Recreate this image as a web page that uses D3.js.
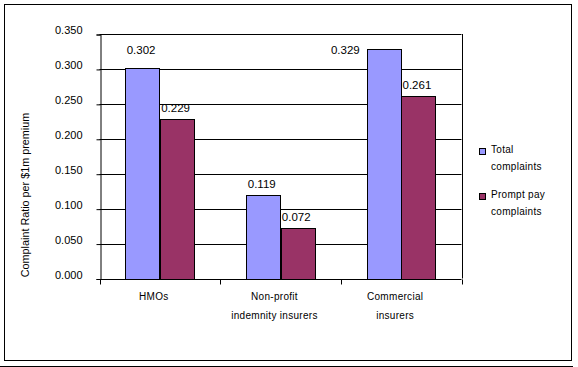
<!DOCTYPE html>
<html><head><meta charset="utf-8">
<script src="https://cdn.jsdelivr.net/npm/d3@7"></script>
<style>
html,body{margin:0;padding:0;background:#fff;}
svg{display:block;font-family:"Liberation Sans",Arial,sans-serif;}
</style></head>
<body><svg id="chart" width="578" height="367"></svg>
<script>
const categories = [["HMOs"], ["Non-profit", "indemnity insurers"], ["Commercial", "insurers"]];
const seriesNames = [["Total", "complaints"], ["Prompt pay", "complaints"]];
const totalComplaints = [0.302, 0.119, 0.329];
const promptPayComplaints = [0.229, 0.072, 0.261];
const yTicks = [0, 0.05, 0.10, 0.15, 0.20, 0.25, 0.30, 0.35];
const colors = ["#9999FF", "#993366"];
const yTitle = "Complaint Ratio per $1m premium";

const svg = d3.select("#chart");
const plot = {left: 99.5, right: 461.5, top: 34, bottom: 278.5};
const series = [totalComplaints, promptPayComplaints];

// outer frame + shadow line
svg.append("rect").attr("x", 4.5).attr("y", 4.5).attr("width", 567).attr("height", 356)
  .attr("fill", "#fff").attr("stroke", "#000").attr("stroke-width", 1);
svg.append("line").attr("x1", 0).attr("x2", 573).attr("y1", 366.5).attr("y2", 366.5)
  .attr("stroke", "#000");

const y = d3.scaleLinear().domain([0, 0.35]).range([plot.bottom, plot.top]);
const x0 = d3.scaleBand().domain(d3.range(categories.length)).range([plot.left, plot.right]).padding(0);
const x1 = d3.scaleBand().domain(d3.range(series.length)).range([0, x0.bandwidth()])
  .paddingInner(0).paddingOuter(0.75);

// gridlines
svg.append("g").selectAll("line").data(yTicks.slice(1)).join("line")
  .attr("x1", plot.left).attr("x2", plot.right)
  .attr("y1", d => Math.round(y(d)) + 0.5).attr("y2", d => Math.round(y(d)) + 0.5)
  .attr("stroke", "#000");
// right border of plot area
svg.append("line").attr("x1", Math.round(plot.right) + 0.5).attr("x2", Math.round(plot.right) + 0.5)
  .attr("y1", plot.top).attr("y2", plot.bottom).attr("stroke", "#000");

// bars
const g = svg.append("g");
series.forEach((vals, si) => {
  g.selectAll(".s" + si).data(vals).join("rect")
    .attr("x", (d, i) => Math.round(x0(i) + x1(si)) + 0.5)
    .attr("y", d => Math.round(y(d)) + 0.5)
    .attr("width", Math.round(x1.bandwidth()))
    .attr("height", d => Math.round(y(0)) - Math.round(y(d)))
    .attr("fill", colors[si]).attr("stroke", "#000").attr("stroke-width", 1);
});

// y axis
const yAxis = d3.axisLeft(y).tickValues(yTicks).tickFormat(d3.format(".3f")).tickSize(4).tickPadding(14);
const ya = svg.append("g").attr("transform", `translate(${Math.round(plot.left) + 0.5},0.5)`).call(yAxis);
ya.select(".domain").attr("stroke", "#000");
ya.selectAll(".tick line").attr("stroke", "#000");
ya.selectAll("text").attr("font-size", 11).attr("fill", "#000")
  .attr("font-family", "'Liberation Sans', Arial, sans-serif").attr("dy", "-0.05em");

// x axis line + ticks at category boundaries
const bottomY = Math.round(y(0)) + 0.5;
svg.append("line").attr("x1", plot.left).attr("x2", plot.right).attr("y1", bottomY).attr("y2", bottomY).attr("stroke", "#000");
const bounds = d3.range(categories.length + 1).map(i => i < categories.length ? x0(i) : plot.right);
svg.append("g").selectAll("line").data(bounds).join("line")
  .attr("x1", d => Math.round(d) + 0.5).attr("x2", d => Math.round(d) + 0.5)
  .attr("y1", bottomY).attr("y2", bottomY + 5).attr("stroke", "#000");

// category labels
categories.forEach((lines, i) => {
  const cx = x0(i) + x0.bandwidth() / 2 - 6;
  lines.forEach((t, li) => {
    svg.append("text").attr("x", cx).attr("y", 300 + li * 19)
      .attr("text-anchor", "middle").attr("font-size", 10).attr("letter-spacing", "0.3px")
      .text(t);
  });
});

// data labels
const labelTop = plot.top + 20;
series.forEach((vals, si) => {
  vals.forEach((v, i) => {
    const bx = x0(i) + x1(si);
    const bt = y(v);
    let tx = bx + x1.bandwidth() / 2 - 1.5, ty = bt - 7, anchor = "middle";
    if (v >= 0.3) {
      ty = labelTop;
      if (bt < labelTop) { tx = bx - 7; anchor = "end"; }
    }
    svg.append("text").attr("x", tx).attr("y", ty).attr("text-anchor", anchor)
      .attr("font-size", 11.5).text(d3.format(".3f")(v));
  });
});

// y title
svg.append("text").attr("transform", "translate(29,195) rotate(-90)")
  .attr("text-anchor", "middle").attr("font-size", 10.8).text(yTitle);

// legend
seriesNames.forEach((lines, si) => {
  const ly = 148 + si * 45;
  svg.append("rect").attr("x", 479.5).attr("y", ly + 0.5).attr("width", 6).attr("height", 6)
    .attr("fill", colors[si]).attr("stroke", "#000");
  lines.forEach((t, li) => {
    svg.append("text").attr("x", 491).attr("y", ly + 5 + li * 17)
      .attr("font-size", 10).attr("letter-spacing", "0.3px").text(t);
  });
});
</script></body></html>
